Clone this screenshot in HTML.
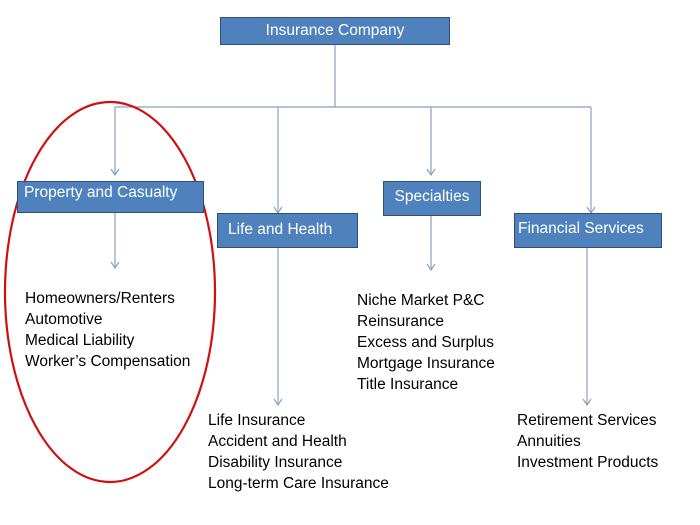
<!DOCTYPE html>
<html><head><style>
body{margin:0;background:#fff;width:700px;height:525px;overflow:hidden;font-family:"Liberation Sans",sans-serif}
.b{position:absolute;background:#4f81bd;border:1.5px solid #2f4f7a;color:#fff;font-size:15.5px;box-sizing:border-box;white-space:nowrap}
.t{position:absolute;font-size:15.5px;line-height:21px;color:#000;white-space:nowrap}
</style></head><body>
<svg width="700" height="525" style="position:absolute;left:0;top:0">
<g stroke="#8aa2bd" stroke-width="1.2" fill="none">
<path d="M335 45V107M115 107H591M115 107V174M278 107V213M431 107V174M591 107V213"/>
<path d="M115 212V268M278 247V405M431 215V270M587 247V405"/>
<path d="M111 169l4 6 4-6M274 207l4 6 4-6M427 169l4 6 4-6M587 207l4 6 4-6M111 262l4 6 4-6M274 399l4 6 4-6M427 264l4 6 4-6M583 399l4 6 4-6"/>
</g>
<ellipse cx="110" cy="292" rx="105" ry="190" fill="none" stroke="#d01010" stroke-width="2.2"/>
</svg>
<div class="b" style="left:220px;top:17px;width:230px;height:28px;text-align:center;line-height:26px">Insurance Company</div>
<div class="b" style="left:17px;top:181px;width:187px;height:32px;padding-left:6px;line-height:22px">Property and Casualty</div>
<div class="b" style="left:217px;top:213px;width:141px;height:35px;padding-left:10px;line-height:31px">Life and Health</div>
<div class="b" style="left:383px;top:181px;width:98px;height:35px;text-align:center;line-height:29px">Specialties</div>
<div class="b" style="left:514px;top:213px;width:148px;height:35px;padding-left:3px;line-height:29px">Financial Services</div>
<div class="t" style="left:25px;top:288px">Homeowners/Renters<br>Automotive<br>Medical Liability<br>Worker’s Compensation</div>
<div class="t" style="left:357px;top:290px">Niche Market P&amp;C<br>Reinsurance<br>Excess and Surplus<br>Mortgage Insurance<br>Title Insurance</div>
<div class="t" style="left:208px;top:410px">Life Insurance<br>Accident and Health<br>Disability Insurance<br>Long-term Care Insurance</div>
<div class="t" style="left:517px;top:410px">Retirement Services<br>Annuities<br>Investment Products</div>
</body></html>
